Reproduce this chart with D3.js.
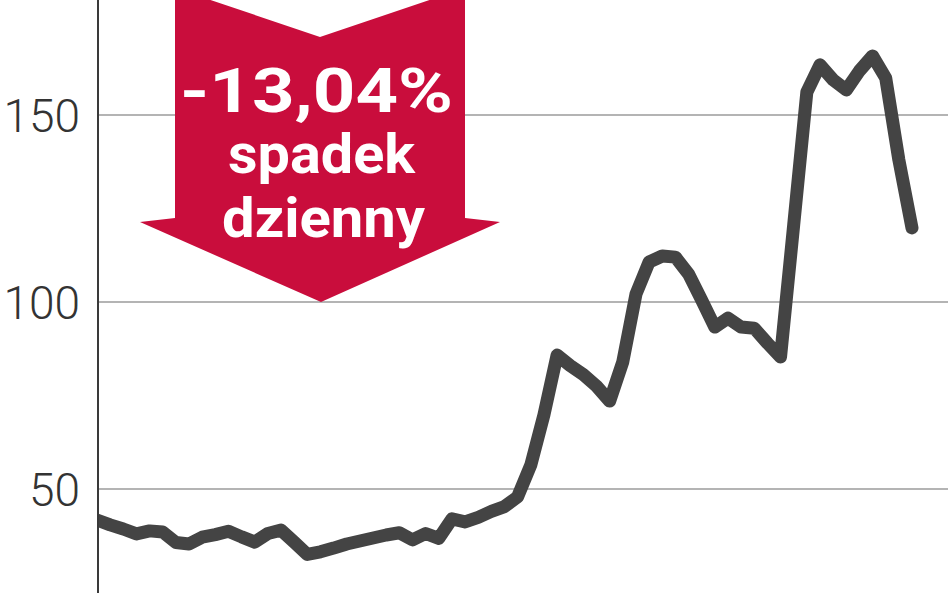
<!DOCTYPE html>
<html>
<head>
<meta charset="utf-8">
<script src="https://cdn.jsdelivr.net/npm/d3@7"></script>
<style>
  html, body { margin: 0; padding: 0; background: #ffffff; }
  svg { display: block; }
</style>
</head>
<body>
<svg id="chart" width="948" height="593"></svg>
<script>
// ---- data ----
const values = [
  41.7, 40.4, 39.3, 38.0, 38.8, 38.5, 35.7, 35.3, 37.1, 37.8,
  38.7, 37.2, 35.8, 38.1, 39.0, 35.8, 32.5, 33.2, 34.2, 35.3,
  36.1, 36.9, 37.7, 38.3, 36.4, 38.1, 36.8, 42.0, 41.2, 42.4,
  44.0, 45.3, 47.9, 56.4, 69.8, 85.8, 83.0, 80.6, 77.5, 73.5,
  84.0, 102.1, 110.7, 112.3, 112.0, 107.5, 100.5, 93.3, 95.7, 93.3,
  93.0, 89.0, 85.3, 120.6, 156.1, 163.4, 159.4, 156.7, 161.8, 165.8,
  159.9, 138.0, 119.8
];
const yTicks = [50, 100, 150];
const tickLabels = ["50", "100", "150"];
const annotationLines = ["-13,04%", "spadek", "dzienny"];

// ---- layout ----
const W = 948, H = 593;
const axisX = 98;
const svg = d3.select("#chart");

const x = d3.scaleLinear().domain([0, values.length - 1]).range([97, 912]);
const y = d3.scaleLinear().domain([50, 150]).range([489, 115]);

svg.append("defs").append("clipPath").attr("id", "plot")
  .append("rect").attr("x", axisX).attr("y", 0).attr("width", W - axisX).attr("height", H);

// gridlines
svg.append("g").selectAll("line").data(yTicks).join("line")
  .attr("x1", axisX).attr("x2", W)
  .attr("y1", d => y(d)).attr("y2", d => y(d))
  .attr("stroke", "#b4b4b4").attr("stroke-width", 2);

// tick labels
svg.append("g").selectAll("text").data(yTicks).join("text")
  .attr("x", 80).attr("y", d => y(d) + 17)
  .attr("text-anchor", "end")
  .attr("font-family", "Roboto, 'Open Sans', sans-serif")
  .attr("font-weight", 300)
  .attr("font-size", 46)
  .attr("fill", "#333")
  .text((d, i) => tickLabels[i]);

// data line
const line = d3.line().x((d, i) => x(i)).y(d => y(d));
svg.append("path")
  .datum(values)
  .attr("clip-path", "url(#plot)")
  .attr("d", line)
  .attr("fill", "none")
  .attr("stroke", "#444444")
  .attr("stroke-width", 13)
  .attr("stroke-linejoin", "round")
  .attr("stroke-linecap", "round");

// axis line
svg.append("line")
  .attr("x1", axisX).attr("x2", axisX)
  .attr("y1", 0).attr("y2", H)
  .attr("stroke", "#3a3a3a").attr("stroke-width", 2);

// annotation arrow
const cx = 320;
const tipY = y(100);
const arrowPts = [
  [cx - 145, -12], [cx, 37], [cx + 145, -12],
  [cx + 145, 218], [cx + 180, 222], [cx + 1, tipY],
  [cx - 180, 222], [cx - 145, 218]
];
svg.append("polygon")
  .attr("points", arrowPts.map(p => p.join(",")).join(" "))
  .attr("fill", "#c90d3c");

const ann = svg.append("g")
  .attr("font-family", "Roboto, 'Open Sans', sans-serif")
  .attr("font-weight", 700)
  .attr("fill", "#ffffff")
  .attr("text-anchor", "middle");

const annSpec = [
  { cx: 316.5, y: 112, size: 62, len: 273 },
  { cx: 321.5, y: 173, size: 56, len: 187 },
  { cx: 323.5, y: 237, size: 55, len: 203 }
];
annotationLines.forEach((t, i) => {
  const s = annSpec[i];
  ann.append("text")
    .attr("x", s.cx).attr("y", s.y)
    .attr("font-size", s.size)
    .attr("textLength", s.len)
    .attr("lengthAdjust", "spacingAndGlyphs")
    .text(t);
});
</script>
</body>
</html>
